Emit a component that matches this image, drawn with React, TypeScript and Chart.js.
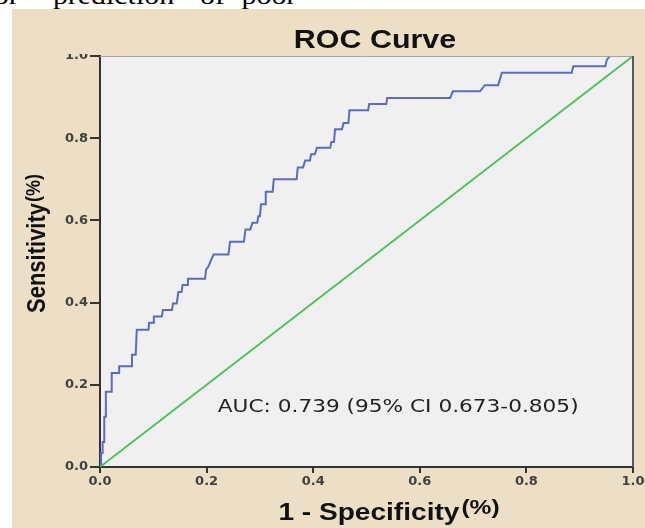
import React, { useEffect, useRef } from 'react';
import { Chart, registerables } from 'chart.js';

Chart.register(...registerables);

// ROC curve vertices (1 - specificity, sensitivity)
const fprValues = [
  0, 0.002, 0.002, 0.005, 0.005, 0.008, 0.008, 0.011, 0.011, 0.022,
  0.022, 0.036, 0.036, 0.060, 0.060, 0.067, 0.069, 0.091, 0.092, 0.100,
  0.101, 0.116, 0.118, 0.135, 0.137, 0.144, 0.147, 0.153, 0.155, 0.164,
  0.165, 0.197, 0.199, 0.203, 0.213, 0.241, 0.244, 0.270, 0.273, 0.282,
  0.286, 0.295, 0.297, 0.300, 0.302, 0.310, 0.311, 0.324, 0.326, 0.369,
  0.371, 0.381, 0.385, 0.394, 0.396, 0.403, 0.407, 0.432, 0.434, 0.439,
  0.441, 0.454, 0.457, 0.466, 0.468, 0.503, 0.505, 0.537, 0.539, 0.657,
  0.662, 0.713, 0.722, 0.747, 0.754, 0.885, 0.888, 0.948, 0.951, 0.957,
  1.0,
];
const tprValues = [
  0, 0, 0.034, 0.034, 0.061, 0.061, 0.122, 0.122, 0.183, 0.183,
  0.229, 0.229, 0.245, 0.245, 0.273, 0.273, 0.334, 0.334, 0.351, 0.351,
  0.366, 0.366, 0.382, 0.382, 0.398, 0.398, 0.426, 0.426, 0.443, 0.443,
  0.458, 0.458, 0.480, 0.487, 0.517, 0.517, 0.548, 0.548, 0.578, 0.578,
  0.594, 0.594, 0.610, 0.610, 0.639, 0.639, 0.670, 0.670, 0.700, 0.700,
  0.729, 0.729, 0.746, 0.746, 0.761, 0.761, 0.777, 0.777, 0.791, 0.791,
  0.822, 0.822, 0.837, 0.837, 0.868, 0.868, 0.883, 0.883, 0.898, 0.898,
  0.914, 0.914, 0.929, 0.929, 0.959, 0.959, 0.975, 0.975, 0.991, 1.0,
  1.0,
];
// reference (chance) line
const chanceX = [0, 1];
const chanceY = [0, 1];

const xTickLabels = ['0.0', '0.2', '0.4', '0.6', '0.8', '1.0'];
const yTickLabels = ['0.0', '0.2', '0.4', '0.6', '0.8', '1.0'];

const chartTitle = 'ROC Curve';
const xAxisTitle = '1 - Specificity';
const yAxisTitle = 'Sensitivity';
const unitSuffix = '(%)';
const aucText = 'AUC: 0.739 (95% CI 0.673-0.805)';
const aucAnchor = [0.221, 0.134];
const captionWords = ['for', 'prediction', 'of', 'poor'];

const SX = 1.17;
const BEIGE = '#ECDFC5';
const PLOT_BG = '#F0F0F0';

function drawScaled(ctx: CanvasRenderingContext2D, text: string, x: number, y: number, font: string, align: CanvasTextAlign) {
  ctx.save();
  ctx.translate(x, y);
  ctx.scale(SX, 1);
  ctx.font = font;
  ctx.textAlign = align;
  ctx.textBaseline = 'alphabetic';
  ctx.fillText(text, 0, 0);
  ctx.restore();
}

const decorPlugin = {
  id: 'decor',
  beforeDraw(chart: any) {
    const { ctx, chartArea: a, width, height } = chart;
    ctx.save();
    ctx.fillStyle = BEIGE;
    ctx.fillRect(12, 9, width - 12, height - 9);
    ctx.fillStyle = PLOT_BG;
    ctx.fillRect(a.left, a.top, a.right - a.left, a.bottom - a.top);
    ctx.restore();
  },
  afterDraw(chart: any) {
    const { ctx, chartArea: a, scales } = chart;
    ctx.save();
    // top and right frame of plot
    ctx.strokeStyle = '#A5A5A5';
    ctx.lineWidth = 1;
    ctx.beginPath();
    ctx.moveTo(a.left, a.top + 0.5);
    ctx.lineTo(a.right, a.top + 0.5);
    ctx.stroke();
    ctx.strokeStyle = '#5A5A5A';
    ctx.lineWidth = 2;
    ctx.beginPath();
    ctx.moveTo(a.right, a.top);
    ctx.lineTo(a.right, a.bottom);
    ctx.stroke();
    // the top tick label is partly hidden in the reference
    ctx.fillStyle = BEIGE;
    ctx.fillRect(60, 40, a.left - 62, 14);

    ctx.fillStyle = '#111111';
    // title
    drawScaled(ctx, chartTitle, 375, 48, 'bold 26px "Liberation Sans"', 'center');

    // x axis title with raised unit
    ctx.font = 'bold 24px "Liberation Sans"';
    const w1 = ctx.measureText(xAxisTitle).width * SX;
    ctx.font = 'bold 21px "Liberation Sans"';
    const w2 = ctx.measureText(unitSuffix).width * SX;
    const gap = 2;
    const startX = 389 - (w1 + gap + w2) / 2;
    drawScaled(ctx, xAxisTitle, startX, 520, 'bold 24px "Liberation Sans"', 'left');
    drawScaled(ctx, unitSuffix, startX + w1 + gap, 514, 'bold 21px "Liberation Sans"', 'left');

    // y axis title (rotated)
    ctx.save();
    ctx.translate(45, 313);
    ctx.scale(SX, 1);
    ctx.rotate(-Math.PI / 2);
    ctx.textAlign = 'left';
    ctx.textBaseline = 'alphabetic';
    ctx.font = 'bold 22px "Liberation Sans"';
    ctx.fillText(yAxisTitle, 0, 0);
    const wy = ctx.measureText(yAxisTitle).width;
    ctx.font = 'bold 18px "Liberation Sans"';
    ctx.fillText(unitSuffix, wy + 1, -4);
    ctx.restore();

    // AUC annotation
    ctx.fillStyle = '#222222';
    const ax = scales.x.getPixelForValue(aucAnchor[0]);
    const ay = scales.y.getPixelForValue(aucAnchor[1]);
    drawScaled(ctx, aucText, ax, ay, '18.5px "DejaVu Sans"', 'left');
    ctx.restore();
  },
};

export default function App() {
  const canvasRef = useRef<HTMLCanvasElement | null>(null);

  useEffect(() => {
    const canvas = canvasRef.current;
    if (!canvas) return;
    const rocPoints = fprValues.map((x, i) => ({ x, y: tprValues[i] }));
    const chancePoints = chanceX.map((x, i) => ({ x, y: chanceY[i] }));
    const tickFont = { family: '"DejaVu Sans"', size: 13, weight: 'bold' as const };

    const chart = new Chart(canvas, {
      type: 'scatter',
      data: {
        datasets: [
          {
            label: 'Chance',
            data: chancePoints,
            showLine: true,
            borderColor: '#4DC25A',
            borderWidth: 1.8,
            pointRadius: 0,
            tension: 0,
          },
          {
            label: 'ROC',
            data: rocPoints,
            showLine: true,
            borderColor: '#5A6CC2',
            borderWidth: 2,
            pointRadius: 0,
            tension: 0,
          },
        ],
      },
      options: {
        animation: false,
        responsive: false,
        devicePixelRatio: 1,
        layout: { padding: { top: 56, right: 27, left: 0, bottom: 0 } },
        plugins: {
          legend: { display: false },
          title: { display: false },
          tooltip: { enabled: false },
        },
        scales: {
          x: {
            type: 'linear',
            min: 0,
            max: 1,
            ticks: {
              stepSize: 0.2,
              font: tickFont,
              color: '#404040',
              padding: 1,
              maxRotation: 0,
              callback: (_v: any, i: number) => xTickLabels[i],
            },
            grid: { drawOnChartArea: false, drawTicks: true, tickLength: 6, color: '#333333', lineWidth: 2 },
            border: { display: true, color: '#333333', width: 2 },
            afterFit: (scale: any) => { scale.height = 61; },
          },
          y: {
            type: 'linear',
            min: 0,
            max: 1,
            ticks: {
              stepSize: 0.2,
              font: tickFont,
              color: '#404040',
              padding: 2,
              callback: (_v: any, i: number) => yTickLabels[i],
            },
            grid: { drawOnChartArea: false, drawTicks: true, tickLength: 10, color: '#333333', lineWidth: 2 },
            border: { display: true, color: '#333333', width: 2 },
            afterFit: (scale: any) => { scale.width = 100; },
          },
        },
      },
      plugins: [decorPlugin],
    });
    return () => chart.destroy();
  }, []);

  const wordLeft = [-14, 46, 174, 210];

  return (
    <div style={{ position: 'absolute', left: 0, top: 0, width: 645, height: 528, overflow: 'hidden', background: '#ffffff' }}>
      <div
        style={{
          position: 'absolute',
          left: 0,
          top: -17,
          width: 400,
          height: 30,
          transform: 'scaleX(1.15)',
          transformOrigin: '0 0',
          fontFamily: '"Liberation Serif", serif',
          fontSize: 26,
          lineHeight: '26px',
          color: '#000',
          whiteSpace: 'nowrap',
        }}
      >
        {captionWords.map((w, i) => (
          <span key={i} style={{ position: 'absolute', left: wordLeft[i], top: 0 }}>{w}</span>
        ))}
      </div>
      <canvas
        ref={canvasRef}
        width={660}
        height={528}
        style={{ position: 'absolute', left: 0, top: 0, width: 660, height: 528 }}
      />
    </div>
  );
}
